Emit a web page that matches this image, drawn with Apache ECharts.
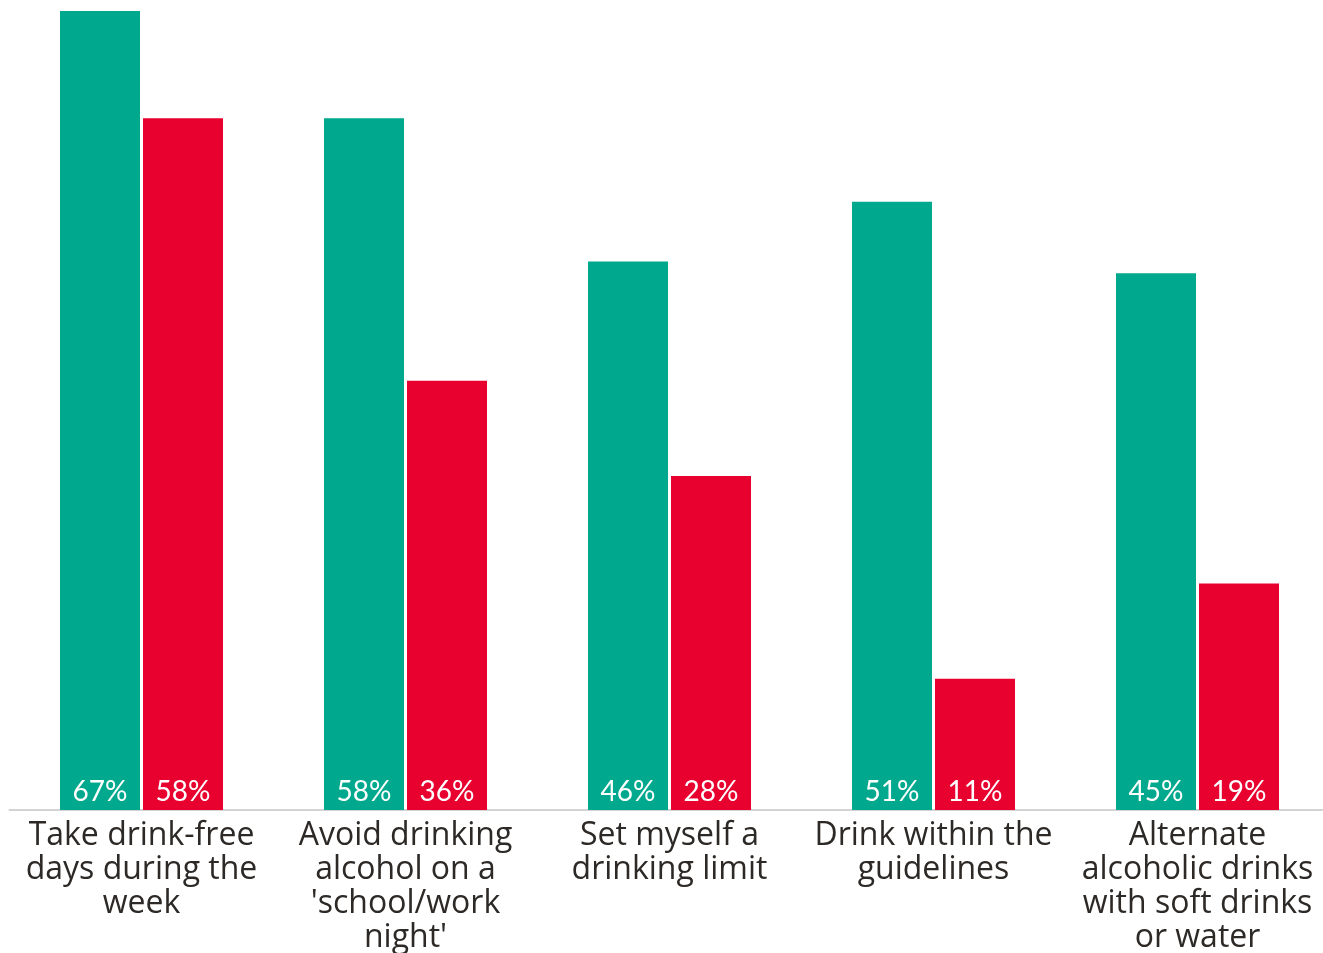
<!DOCTYPE html>
<html>
<head>
<meta charset="utf-8">
<script src="https://cdn.jsdelivr.net/npm/echarts@6/dist/echarts.min.js"></script>
<style>
html, body { margin: 0; padding: 0; background: #fff; }
#chart { width: 1323px; height: 953px; }
</style>
</head>
<body>
<div id="chart"></div>
<script>
// categories and values
var categories = [
	"Take drink-free\ndays during the\nweek",
	"Avoid drinking\nalcohol on a\n'school/work\nnight'",
	"Set myself a\ndrinking limit",
	"Drink within the\nguidelines",
	"Alternate\nalcoholic drinks\nwith soft drinks\nor water"
];
var green_values = [67, 58, 46, 51, 45];
var red_values = [58, 36, 28, 11, 19];

var chart = echarts.init(document.getElementById("chart"));

function bar_label() {
	return {
		show: true,
		position: "insideBottom",
		distance: 4,
		color: "#fff",
		fontFamily: "Lato",
		fontSize: 28,
		formatter: "{c}%"
	};
}

var option = {
	animation: false,
	grid: { left: 9.5, width: 1320, top: 11, bottom: 143, outerBoundsMode: "none", containLabel: false },
	xAxis: {
		type: "category",
		data: categories,
		axisLine: { show: true, lineStyle: { color: "#d3d3d3", width: 2 } },
		axisTick: { show: false },
		axisLabel: {
			interval: 0,
			margin: 9,
			color: "#2d2926",
			fontFamily: "Open Sans",
			fontSize: 32,
			lineHeight: 34,
			align: "center",
			hideOverlap: false
		}
	},
	yAxis: {
		type: "value",
		min: 0,
		max: 67,
		show: false,
		splitLine: { show: false }
	},
	series: [
		{
			type: "bar",
			data: green_values,
			barWidth: 80,
			barGap: "3.75%",
			itemStyle: { color: "#00a88e" },
			label: bar_label()
		},
		{
			type: "bar",
			data: red_values,
			barWidth: 80,
			itemStyle: { color: "#e8002f" },
			label: bar_label()
		}
	]
};
chart.setOption(option, true);
</script>
</body>
</html>
